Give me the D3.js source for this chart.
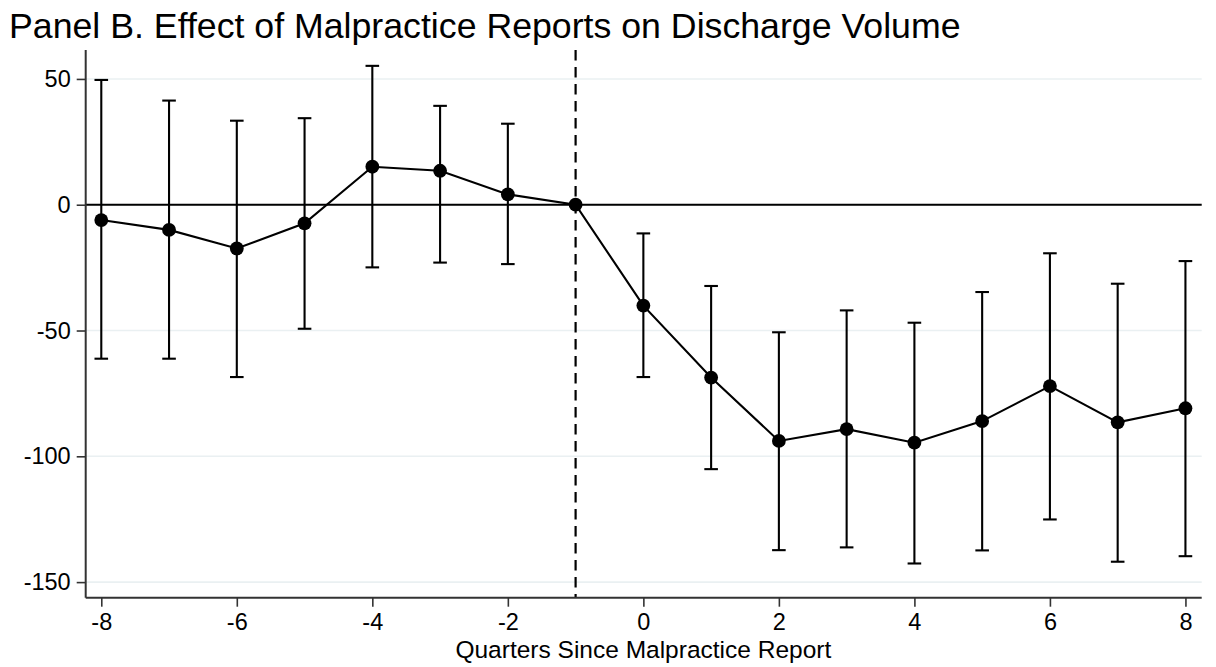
<!DOCTYPE html>
<html>
<head>
<meta charset="utf-8">
<script src="https://cdn.jsdelivr.net/npm/d3@7"></script>
<style>
  html, body { margin: 0; padding: 0; background: #fff; }
  svg { display: block; font-family: "Liberation Sans", Arial, Helvetica, sans-serif; }
</style>
</head>
<body>
<svg id="chart" width="1216" height="667"></svg>
<script>
// Event-study estimates: quarters relative to the malpractice report
const quarters = [-8, -7, -6, -5, -4, -3, -2, -1, 0, 1, 2, 3, 4, 5, 6, 7, 8];
const estimate = [-6.1, -10.0, -17.4, -7.4, 15.1, 13.5, 4.1, 0, -40.1, -68.7, -93.9, -89.2, -94.6, -86.0, -72.1, -86.5, -80.9];
const ciLow    = [-61.2, -61.2, -68.5, -49.3, -24.9, -23.0, -23.6, null, -68.5, -105.1, -137.3, -136.2, -142.6, -137.4, -125.1, -141.9, -139.7];
const ciHigh   = [49.6, 41.4, 33.4, 34.4, 55.2, 39.3, 32.2, null, -11.4, -32.3, -50.7, -42.0, -46.9, -34.7, -19.3, -31.4, -22.4];
const xTicks = [-8, -6, -4, -2, 0, 2, 4, 6, 8];
const yTicks = [50, 0, -50, -100, -150];
const eventQuarter = -1;

const titleText = "Panel B. Effect of Malpractice Reports on Discharge Volume";
const xTitle = "Quarters Since Malpractice Report";

const svg = d3.select("#chart");
const plot = { left: 85.7, right: 1201.7, top: 50, bottom: 597.7 };

const x = d3.scaleLinear().domain([-8.23, 8.24]).range([plot.left, plot.right]);
const y = d3.scaleLinear().domain([-156.2, 61.5]).range([plot.bottom, plot.top]);

// Plain hyphen for negative numbers
const fmt = d => String(d);

// Title
svg.append("text")
  .attr("x", 9).attr("y", 38)
  .attr("font-size", 35.7).attr("fill", "#000")
  .text(titleText);

// Horizontal gridlines
svg.append("g").selectAll("line").data(yTicks).join("line")
  .attr("x1", plot.left).attr("x2", plot.right)
  .attr("y1", d => y(d)).attr("y2", d => y(d))
  .attr("stroke", "#eaf0f2").attr("stroke-width", 1.6);

// Zero reference line
svg.append("line")
  .attr("x1", plot.left).attr("x2", plot.right)
  .attr("y1", y(0)).attr("y2", y(0))
  .attr("stroke", "#000").attr("stroke-width", 2.1);

// Event marker (dashed vertical)
svg.append("line")
  .attr("x1", x(eventQuarter)).attr("x2", x(eventQuarter))
  .attr("y1", plot.top).attr("y2", plot.bottom)
  .attr("stroke", "#000").attr("stroke-width", 2.2)
  .attr("stroke-dasharray", "10.5,6.5");

// Axes
const yAxis = d3.axisLeft(y).tickValues(yTicks).tickFormat(fmt).tickSize(9).tickSizeOuter(0).tickPadding(6);
const xAxis = d3.axisBottom(x).tickValues(xTicks).tickFormat(fmt).tickSize(9).tickSizeOuter(0).tickPadding(7);

const gy = svg.append("g").attr("transform", `translate(${plot.left},0)`).call(yAxis);
const gx = svg.append("g").attr("transform", `translate(0,${plot.bottom})`).call(xAxis);

[gy, gx].forEach(g => {
  g.select(".domain").attr("stroke", "#333").attr("stroke-width", 2);
  g.selectAll(".tick line").attr("stroke", "#333").attr("stroke-width", 1.6);
  g.selectAll(".tick text").attr("fill", "#000").attr("font-size", 23.5)
    .attr("font-family", "Liberation Sans, Arial, sans-serif");
});
gy.select(".domain").attr("d", `M0,${plot.top}V${plot.bottom}`);
gx.select(".domain").attr("d", `M${plot.left},0H${plot.right}`);

// X-axis title
svg.append("text")
  .attr("x", x(0)).attr("y", 658)
  .attr("text-anchor", "middle").attr("font-size", 24.5).attr("fill", "#000")
  .text(xTitle);

// Confidence intervals
const rows = quarters.map((q, i) => ({ q, est: estimate[i], lo: ciLow[i], hi: ciHigh[i] }));
const ci = rows.filter(d => d.lo !== null && d.hi !== null);
const capHalf = 6.8;
const gci = svg.append("g").attr("stroke", "#000").attr("stroke-width", 2.1);
gci.selectAll("line.bar").data(ci).join("line").attr("class", "bar")
  .attr("x1", d => x(d.q)).attr("x2", d => x(d.q))
  .attr("y1", d => y(d.hi)).attr("y2", d => y(d.lo));
gci.selectAll("line.capHi").data(ci).join("line").attr("class", "capHi")
  .attr("x1", d => x(d.q) - capHalf).attr("x2", d => x(d.q) + capHalf)
  .attr("y1", d => y(d.hi)).attr("y2", d => y(d.hi));
gci.selectAll("line.capLo").data(ci).join("line").attr("class", "capLo")
  .attr("x1", d => x(d.q) - capHalf).attr("x2", d => x(d.q) + capHalf)
  .attr("y1", d => y(d.lo)).attr("y2", d => y(d.lo));

// Connecting line of point estimates
const line = d3.line().x(d => x(d.q)).y(d => y(d.est));
svg.append("path").datum(rows)
  .attr("d", line).attr("fill", "none")
  .attr("stroke", "#000").attr("stroke-width", 2.1);

// Point markers
svg.append("g").selectAll("circle").data(rows).join("circle")
  .attr("cx", d => x(d.q)).attr("cy", d => y(d.est))
  .attr("r", 6.9).attr("fill", "#000");
</script>
</body>
</html>
